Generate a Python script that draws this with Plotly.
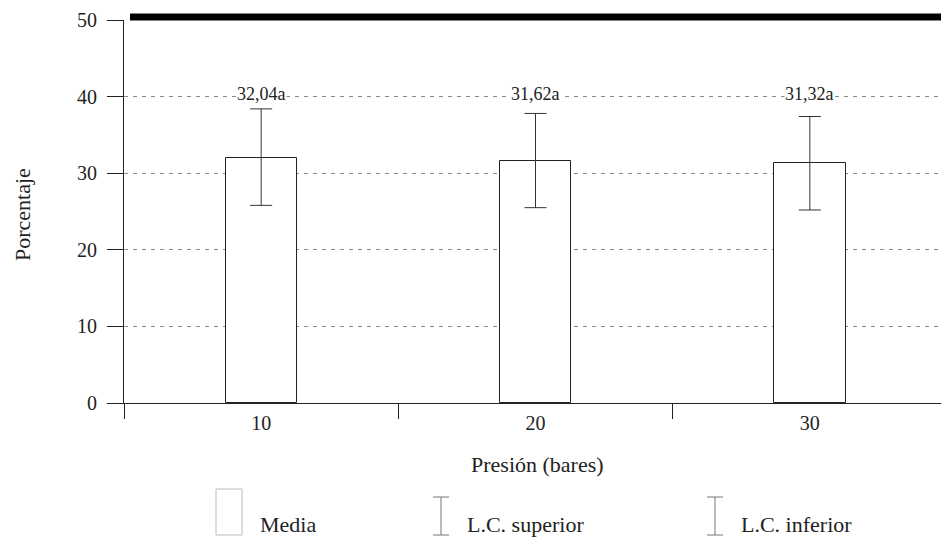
import plotly.graph_objects as go

# ---- data ----
categories = ["10", "20", "30"]
media = [32.04, 31.62, 31.32]
lc_superior = [38.4, 37.8, 37.4]
lc_inferior = [25.8, 25.5, 25.2]
letters = ["a", "a", "a"]
y_ticks = [0, 10, 20, 30, 40, 50]

OFF = 8  # page body margin
W, H = 949 - OFF, 538 - OFF
# plot area in screen pixels: x 124..947, y 20..403
L, R, T, B = 124 - OFF, W - (947 - OFF), 20 - OFF, H - (403 - OFF)
FONT = "Liberation Serif, Times New Roman, serif"

err_plus = [u - m for u, m in zip(lc_superior, media)]
err_minus = [m - l for m, l in zip(media, lc_inferior)]

pw, ph = W - L - R, H - T - B
def px(x):
    return (x - OFF - L) / pw
def py(y):
    return (H - B - (y - OFF)) / ph

fig = go.Figure()
fig.add_trace(go.Bar(
    x=categories, y=media, width=0.26,
    marker=dict(color="white", line=dict(color="#222", width=1)),
    error_y=dict(type="data", symmetric=False, array=err_plus, arrayminus=err_minus,
                 color="#333", thickness=1, width=11),
    showlegend=False,
))

# value labels (category index positions)
for i, (m, l) in enumerate(zip(media, letters)):
    fig.add_annotation(x=i, y=40, text=f"{m:.2f}".replace(".", ",") + l,
                       showarrow=False, yshift=3, xanchor="center", yanchor="middle",
                       font=dict(family=FONT, size=18, color="#222"),
                       bgcolor="white", borderpad=0)

# axis titles
fig.add_annotation(xref="paper", yref="paper", x=px(22), y=py(215), xanchor="center", yanchor="middle",
                   text="Porcentaje", textangle=-90, showarrow=False,
                   font=dict(family=FONT, size=22, color="#222"))
fig.add_annotation(xref="paper", yref="paper", x=px(537), y=py(464), xanchor="center", yanchor="middle",
                   text="Presión (bares)", showarrow=False,
                   font=dict(family=FONT, size=22, color="#222"))

shapes = []
# thick top border
shapes.append(dict(type="line", xref="paper", yref="paper", x0=px(130), x1=px(949), y0=py(17), y1=py(17),
                   line=dict(color="#000", width=7)))
# right border (faint)
shapes.append(dict(type="line", xref="paper", yref="paper", x0=1, x1=1, y0=0, y1=1,
                   line=dict(color="#ccc", width=1)))
# legend: Media box
shapes.append(dict(type="rect", xref="paper", yref="paper", x0=px(216), x1=px(242), y0=py(535), y1=py(489),
                   line=dict(color="#bbb", width=1), fillcolor="white"))
# legend error glyphs
for cx in (441, 715):
    shapes.append(dict(type="line", xref="paper", yref="paper", x0=px(cx), x1=px(cx), y0=py(535), y1=py(497),
                       line=dict(color="#777", width=1)))
    for yy in (497, 535):
        shapes.append(dict(type="line", xref="paper", yref="paper", x0=px(cx - 8), x1=px(cx + 8), y0=py(yy), y1=py(yy),
                           line=dict(color="#777", width=1)))
fig.update_layout(shapes=shapes)

for tx, txt in ((258, "Media"), (465, "L.C. superior"), (739, "L.C. inferior")):
    fig.add_annotation(xref="paper", yref="paper", x=px(tx), y=py(524), xanchor="left", yanchor="middle",
                       text=txt, showarrow=False, font=dict(family=FONT, size=22, color="#222"))

fig.update_layout(
    width=W, height=H, margin=dict(l=L, r=R, t=T, b=B, autoexpand=False),
    paper_bgcolor="white", plot_bgcolor="white",
    font=dict(family=FONT, size=20, color="#222"),
    xaxis=dict(type="category", range=[-0.5, 2.5], showline=True, linecolor="#222", linewidth=1,
               ticks="outside", tickson="boundaries", ticklen=15, tickcolor="#222",
               ticklabelstandoff=2, automargin=False,
               showgrid=False, tickfont=dict(family=FONT, size=20, color="#222")),
    yaxis=dict(range=[0, 50], tickvals=y_ticks, showline=True, linecolor="#222", linewidth=1,
               ticks="outside", ticklen=16, tickcolor="#222", ticklabelstandoff=6, automargin=False,
               showgrid=True, gridcolor="#888", gridwidth=1, griddash="4px,5px",
               zeroline=False, tickfont=dict(family=FONT, size=20, color="#222")),
    bargap=0,
)

fig.write_html("out.html")
